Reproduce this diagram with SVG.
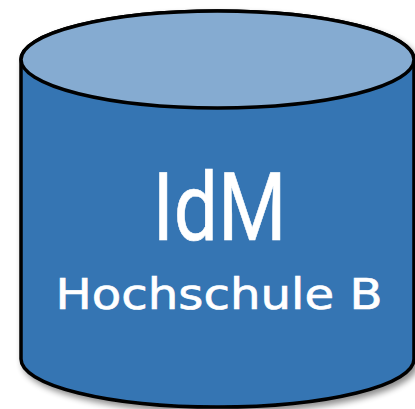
<svg xmlns="http://www.w3.org/2000/svg" width="415" height="409" viewBox="0 0 415 409">
<defs>
<filter id="sh" x="-10%" y="-10%" width="130%" height="130%">
<feGaussianBlur in="SourceAlpha" stdDeviation="3"/>
<feOffset dx="3" dy="4" result="b"/>
<feComponentTransfer><feFuncA type="linear" slope="0.45"/></feComponentTransfer>
<feMerge><feMergeNode/><feMergeNode in="SourceGraphic"/></feMerge>
</filter>
<style>
.body{fill:#3575b3;stroke:#000;stroke-width:3.5}
.top{fill:#85abd1;stroke:#000;stroke-width:3.5}
.t{fill:#fff;stroke:#fff;text-anchor:middle}
.big{font-family:Roboto,"DejaVu Sans",sans-serif;font-weight:400;stroke-width:0.6}
.small{font-family:"DejaVu Sans","Liberation Sans",sans-serif;stroke-width:0.7}
</style>
</defs>
<g id="database">
<path class="body" filter="url(#sh)" d="M21,59.5 L21,359 A196.5,48 0 0 0 414,359 L414,59.5 A196.5,48.5 0 0 0 21,59.5 Z"/>
<ellipse class="top" cx="217.5" cy="59.5" rx="196.5" ry="48.5"/>
<text class="t big" x="219.5" y="240" font-size="95" textLength="134" lengthAdjust="spacingAndGlyphs">IdM</text>
<text class="t small" x="219" y="309" font-size="43" textLength="327" lengthAdjust="spacingAndGlyphs">Hochschule B</text>
</g>
<g id="connectors"/>
</svg>
